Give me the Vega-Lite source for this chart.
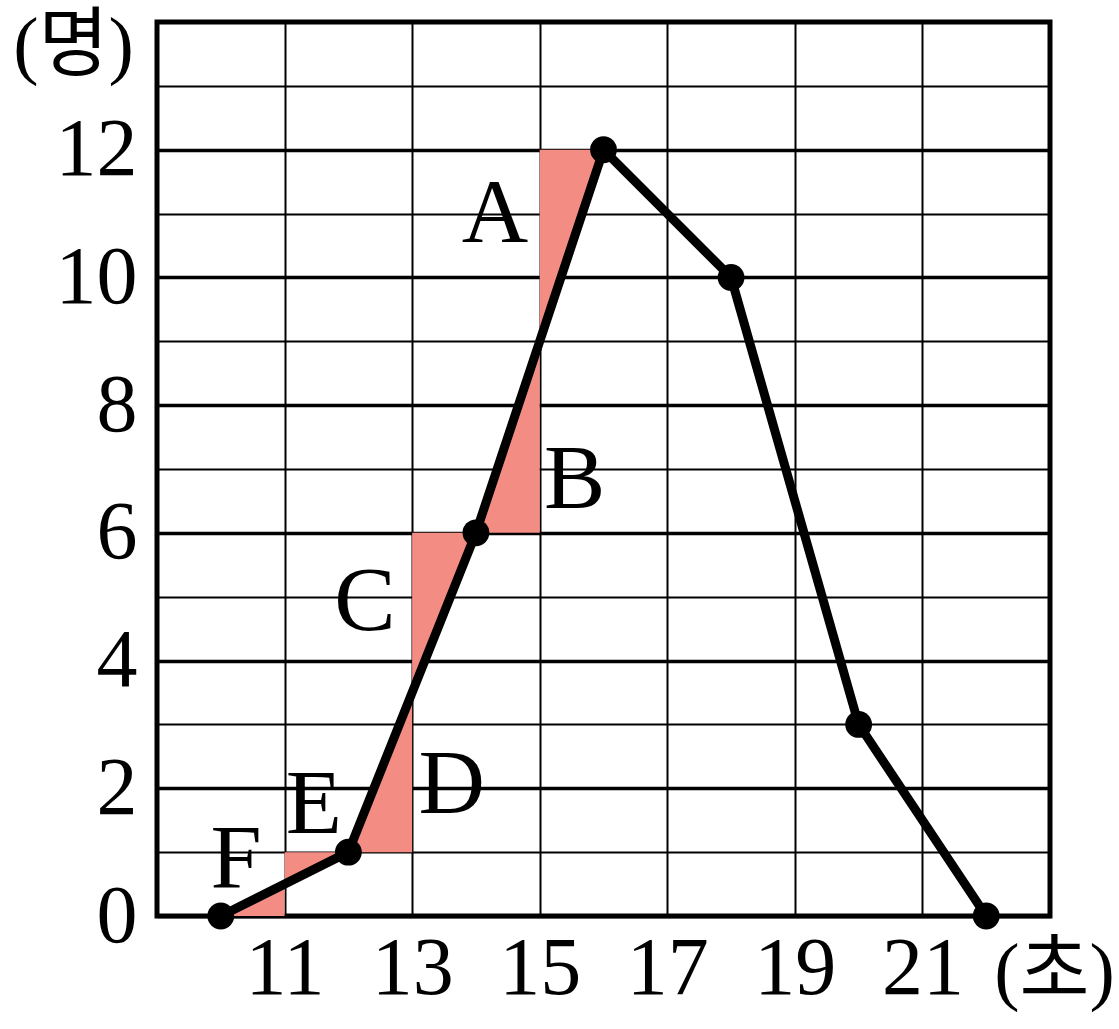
{
  "$schema": "https://vega.github.io/schema/vega-lite/v6.json",
  "autosize": "none",
  "width": 893,
  "height": 894,
  "padding": {"left": 157, "top": 22, "right": 69, "bottom": 113},
  "background": "white",
  "config": {
    "view": {"stroke": "black", "strokeWidth": 5},
    "axis": {
      "labelFont": "Liberation Serif",
      "labelFontSize": 82,
      "labelColor": "black",
      "labelOverlap": false,
      "format": "d",
      "titleFont": "'Liberation Serif', 'Noto Sans CJK KR'",
      "titleFontSize": 76,
      "titleFontWeight": "normal",
      "titleColor": "black",
      "ticks": false,
      "domain": false,
      "gridColor": "black",
      "gridOpacity": 1,
      "zindex": 1
    }
  },
  "datasets": {
    "freq": [
      {"sec": 10, "count": 0},
      {"sec": 12, "count": 1},
      {"sec": 14, "count": 6},
      {"sec": 16, "count": 12},
      {"sec": 18, "count": 10},
      {"sec": 20, "count": 3},
      {"sec": 22, "count": 0}
    ],
    "shade": [
      {"region": "F", "sec": 10, "top": 0, "bottom": 0},
      {"region": "F", "sec": 11, "top": 0.5, "bottom": 0},
      {"region": "E", "sec": 11, "top": 1, "bottom": 0.5},
      {"region": "E", "sec": 12, "top": 1, "bottom": 1},
      {"region": "D", "sec": 12, "top": 1, "bottom": 1},
      {"region": "D", "sec": 13, "top": 3.5, "bottom": 1},
      {"region": "C", "sec": 13, "top": 6, "bottom": 3.5},
      {"region": "C", "sec": 14, "top": 6, "bottom": 6},
      {"region": "B", "sec": 14, "top": 6, "bottom": 6},
      {"region": "B", "sec": 15, "top": 9, "bottom": 6},
      {"region": "A", "sec": 15, "top": 12, "bottom": 9},
      {"region": "A", "sec": 16, "top": 12, "bottom": 12}
    ],
    "labels": [
      {"name": "A", "sec": 14.3, "count": 11.0},
      {"name": "B", "sec": 15.55, "count": 6.83},
      {"name": "C", "sec": 12.26, "count": 4.92},
      {"name": "D", "sec": 13.62, "count": 2.05},
      {"name": "E", "sec": 11.46, "count": 1.74},
      {"name": "F", "sec": 10.24, "count": 0.88}
    ]
  },
  "layer": [
    {
      "data": {"name": "shade"},
      "mark": {"type": "area", "color": "#F38D84", "opacity": 1},
      "encoding": {
        "x": {
          "field": "sec", "type": "quantitative",
          "scale": {"domain": [9, 23], "nice": false, "zero": false},
          "axis": {
            "values": [11, 13, 15, 17, 19, 21],
            "labelPadding": 52,
            "labelBaseline": "middle",
            "gridWidth": 2,
            "title": "(초)",
            "titleAngle": 0,
            "titleX": 897,
            "titleY": 56,
            "titleAlign": "center",
            "titleBaseline": "middle"
          }
        },
        "y": {
          "field": "top", "type": "quantitative",
          "scale": {"domain": [0, 14], "nice": false},
          "axis": {
            "values": [0, 1, 2, 3, 4, 5, 6, 7, 8, 9, 10, 11, 12, 13],
            "labelExpr": "datum.value % 2 === 0 ? datum.label : ''",
            "labelPadding": 20,
            "labelBaseline": "middle",
            "gridWidth": {"condition": {"test": "datum.value % 2 === 0", "value": 3.5}, "value": 2},
            "title": "(명)",
            "titleAngle": 0,
            "titleX": -84,
            "titleY": 24,
            "titleAlign": "center",
            "titleBaseline": "middle"
          }
        },
        "y2": {"field": "bottom"},
        "detail": {"field": "region"}
      }
    },
    {
      "data": {"name": "freq"},
      "mark": {"type": "line", "color": "black", "strokeWidth": 9},
      "encoding": {
        "x": {"field": "sec", "type": "quantitative"},
        "y": {"field": "count", "type": "quantitative"}
      }
    },
    {
      "data": {"name": "freq"},
      "mark": {"type": "point", "filled": true, "color": "black", "opacity": 1, "size": 720},
      "encoding": {
        "x": {"field": "sec", "type": "quantitative"},
        "y": {"field": "count", "type": "quantitative"}
      }
    },
    {
      "data": {"name": "labels"},
      "mark": {"type": "text", "font": "Liberation Serif", "fontSize": 92, "color": "black", "baseline": "middle", "align": "center"},
      "encoding": {
        "x": {"field": "sec", "type": "quantitative"},
        "y": {"field": "count", "type": "quantitative"},
        "text": {"field": "name"}
      }
    }
  ]
}
